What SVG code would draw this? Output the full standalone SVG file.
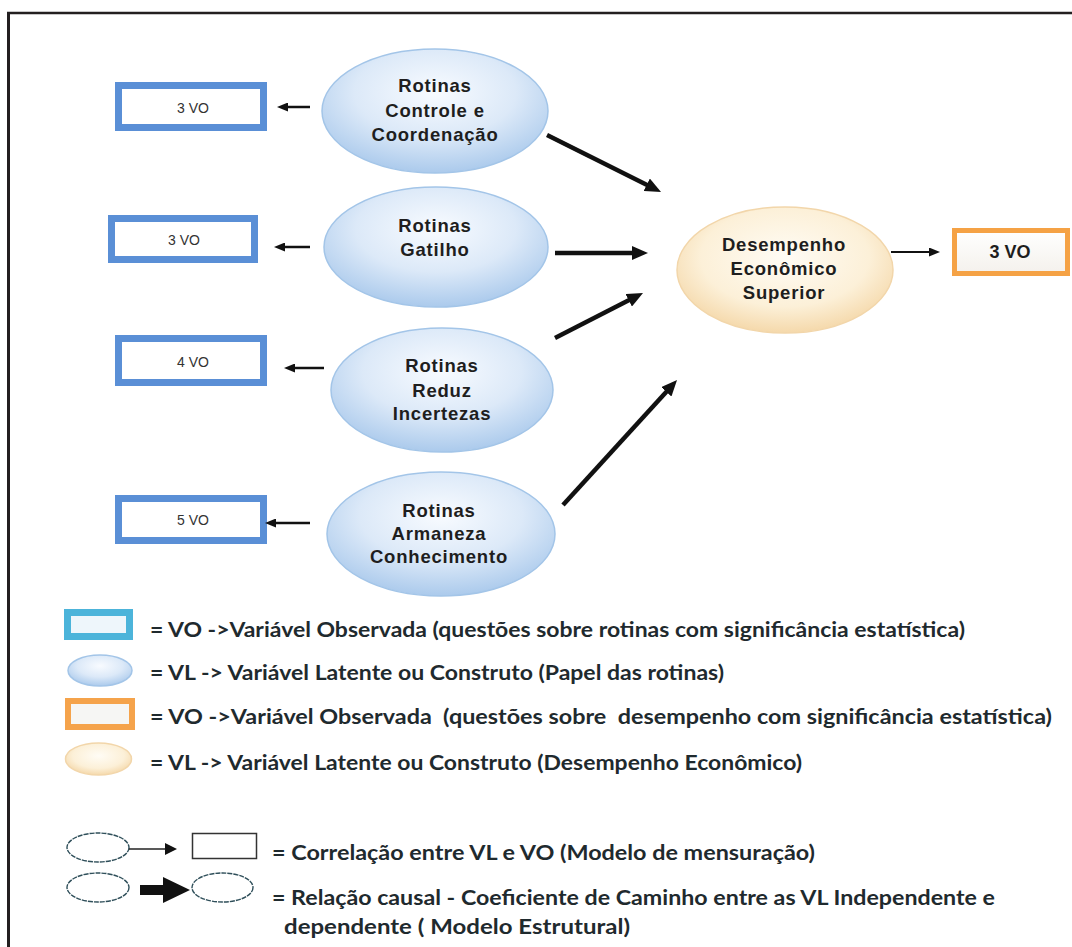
<svg xmlns="http://www.w3.org/2000/svg" width="1072" height="947" viewBox="0 0 1072 947">
<defs>
<style>
.nt{font-family:"Liberation Sans",Arial,sans-serif;font-weight:bold;font-size:18.5px;fill:#1e1e1e;text-anchor:middle;letter-spacing:0.8px}
.vt{font-family:"Liberation Sans",Arial,sans-serif;font-size:14px;fill:#333333;text-anchor:middle}
.leg{font-family:Lato,"Liberation Sans",sans-serif;font-weight:bold;font-size:20px;fill:#1f2a2e}
.brect{fill:#ffffff;stroke:#5a8fd6;stroke-width:7}
.bell{fill:url(#gBlue);stroke:#a3c5e8;stroke-width:1.5}
.thick{stroke:#111;stroke-width:4.5;fill:none;marker-end:url(#hBig)}
.thin{stroke:#111;stroke-width:2.5;fill:none;marker-end:url(#hSmall)}
.lell{fill:#ffffff;stroke:#2f4f5a;stroke-width:1.4;stroke-dasharray:5 1}
</style>
<radialGradient id="gBlue" cx="50%" cy="35%" r="65%">
<stop offset="0" stop-color="#f8fbff"/>
<stop offset="0.55" stop-color="#dce9f8"/>
<stop offset="1" stop-color="#abcaec"/>
</radialGradient>
<radialGradient id="gCream" cx="50%" cy="40%" r="65%">
<stop offset="0" stop-color="#fffcf5"/>
<stop offset="0.6" stop-color="#fcf0d8"/>
<stop offset="1" stop-color="#f3d3a0"/>
</radialGradient>
<linearGradient id="gOrIn" x1="0" y1="0" x2="0" y2="1">
<stop offset="0" stop-color="#ffffff"/>
<stop offset="1" stop-color="#f4f1ec"/>
</linearGradient>
<marker id="hBig" viewBox="0 0 16 14" refX="6" refY="7" markerWidth="16" markerHeight="14" markerUnits="userSpaceOnUse" orient="auto">
<path d="M0,0 L16,7 L0,14 Z" fill="#111"/>
</marker>
<marker id="hSmall" viewBox="0 0 11 9" refX="5" refY="4.5" markerWidth="11" markerHeight="9" markerUnits="userSpaceOnUse" orient="auto">
<path d="M0,0 L11,4.5 L0,9 Z" fill="#111"/>
</marker>
</defs>
<rect x="0" y="0" width="1072" height="947" fill="#ffffff"/>
<g id="frame">
<line x1="7" y1="13" x2="1072" y2="13" stroke="#231f20" stroke-width="2.5"/>
<line x1="8.5" y1="12" x2="8.5" y2="947" stroke="#231f20" stroke-width="3"/>
</g>

<g id="vo1"><rect class="brect" x="118.5" y="85.5" width="145" height="42"/><text class="vt" x="193" y="113">3 VO</text></g>
<g id="vo2"><rect class="brect" x="111.5" y="218.5" width="143" height="41"/><text class="vt" x="184" y="245">3 VO</text></g>
<g id="vo3"><rect class="brect" x="118.5" y="338.5" width="145" height="44"/><text class="vt" x="193" y="367">4 VO</text></g>
<g id="vo4"><rect class="brect" x="118.5" y="498.5" width="145" height="42"/><text class="vt" x="193" y="525">5 VO</text></g>

<g id="vl1"><ellipse class="bell" cx="435" cy="111" rx="113" ry="62"/>
<text class="nt" x="435" y="92">Rotinas</text><text class="nt" x="435" y="117">Controle e</text><text class="nt" x="435" y="141">Coordenação</text></g>
<g id="vl2"><ellipse class="bell" cx="436" cy="247" rx="112" ry="60"/>
<text class="nt" x="435" y="232">Rotinas</text><text class="nt" x="435" y="256">Gatilho</text></g>
<g id="vl3"><ellipse class="bell" cx="442" cy="390" rx="111" ry="62"/>
<text class="nt" x="442" y="372">Rotinas</text><text class="nt" x="442" y="397">Reduz</text><text class="nt" x="442" y="420">Incertezas</text></g>
<g id="vl4"><ellipse class="bell" cx="441" cy="534" rx="114" ry="62"/>
<text class="nt" x="439" y="517">Rotinas</text><text class="nt" x="439" y="540">Armaneza</text><text class="nt" x="439" y="563">Conhecimento</text></g>

<g id="desempenho"><ellipse cx="785" cy="270" rx="108" ry="63" fill="url(#gCream)" stroke="#f2d6aa" stroke-width="1.5"/>
<text class="nt" x="784" y="251">Desempenho</text><text class="nt" x="784" y="275">Econômico</text><text class="nt" x="784" y="299">Superior</text></g>

<g id="vo-desempenho"><rect x="954.5" y="230.5" width="113" height="43" fill="url(#gOrIn)" stroke="#f5a245" stroke-width="5"/>
<text x="1010" y="258" font-family="Liberation Sans, Arial, sans-serif" font-weight="bold" font-size="18" fill="#1e1e1e" text-anchor="middle">3 VO</text></g>

<g id="connectors">
<line class="thin" x1="310" y1="107" x2="283" y2="107"/>
<line class="thin" x1="310" y1="247" x2="280" y2="247"/>
<line class="thin" x1="324" y1="368" x2="290" y2="368"/>
<line class="thin" x1="310" y1="523" x2="271" y2="523"/>
<line class="thick" x1="547" y1="135" x2="652.1" y2="187.5"/>
<line class="thick" x1="555" y1="253" x2="638" y2="253"/>
<line class="thick" x1="555" y1="338" x2="634.1" y2="297.6"/>
<line class="thick" x1="563" y1="505" x2="670.3" y2="387.4"/>
<line x1="891" y1="252" x2="934" y2="252" stroke="#111" stroke-width="2" marker-end="url(#hSmall)"/>
</g>

<g id="legend">
<rect x="67.5" y="612.5" width="62" height="24" fill="#eef6fb" stroke="#4cb4da" stroke-width="7"/>
<text class="leg" x="150" y="637" textLength="815" lengthAdjust="spacingAndGlyphs">= VO -&gt;Variável Observada (questões sobre rotinas com significância estatística)</text>
<ellipse cx="100" cy="670.5" rx="32" ry="15.5" fill="url(#gBlue)" stroke="#a3c5e8" stroke-width="1.5"/>
<text class="leg" x="150" y="680" textLength="574" lengthAdjust="spacingAndGlyphs">= VL -&gt; Variável Latente ou Construto (Papel das rotinas)</text>
<rect x="68" y="701" width="64" height="26" fill="#f6f6f4" stroke="#f5a34b" stroke-width="6"/>
<text class="leg" x="150" y="724" textLength="902" lengthAdjust="spacingAndGlyphs" xml:space="preserve">= VO -&gt;Variável Observada  (questões sobre  desempenho com significância estatística)</text>
<ellipse cx="98.5" cy="759" rx="33" ry="16" fill="url(#gCream)" stroke="#f2d6aa" stroke-width="1.5"/>
<text class="leg" x="150" y="770" textLength="652" lengthAdjust="spacingAndGlyphs">= VL -&gt; Variável Latente ou Construto (Desempenho Econômico)</text>

<ellipse class="lell" cx="98" cy="847.5" rx="31" ry="14.5"/>
<line x1="129" y1="849" x2="166" y2="849" stroke="#222" stroke-width="1.5"/>
<path d="M165,843 L177,849 L165,855 Z" fill="#111"/>
<rect x="192.5" y="833.5" width="64" height="25" fill="#ffffff" stroke="#333" stroke-width="1.5"/>
<text class="leg" x="272" y="860" textLength="543" lengthAdjust="spacingAndGlyphs">= Correlação entre VL e VO (Modelo de mensuração)</text>
<ellipse class="lell" cx="98" cy="887.5" rx="31" ry="14.5"/>
<path d="M140,885 L163,885 L163,877 L190,890 L163,903 L163,895 L140,895 Z" fill="#111"/>
<ellipse class="lell" cx="222.5" cy="887.5" rx="30.5" ry="14.5"/>
<text class="leg" x="272" y="905" textLength="723" lengthAdjust="spacingAndGlyphs">= Relação causal - Coeficiente de Caminho entre as VL Independente e</text>
<text class="leg" x="284" y="934" textLength="346" lengthAdjust="spacingAndGlyphs">dependente ( Modelo Estrutural)</text>
</g>
</svg>
